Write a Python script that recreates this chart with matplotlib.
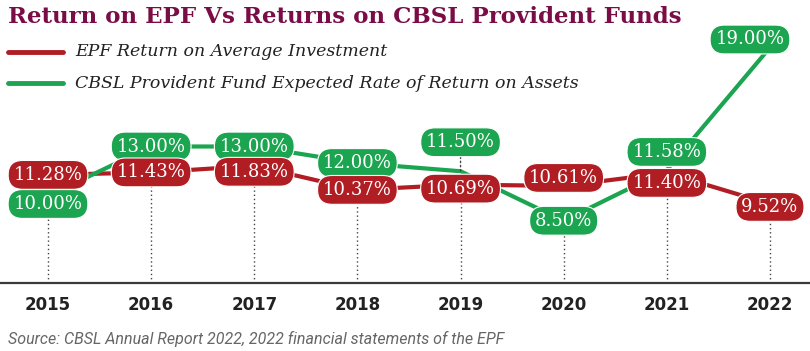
import matplotlib
matplotlib.use("Agg")
import matplotlib.pyplot as plt
from matplotlib.lines import Line2D

years = [2015, 2016, 2017, 2018, 2019, 2020, 2021, 2022]
epf = [11.28, 11.43, 11.83, 10.37, 10.69, 10.61, 11.40, 9.52]
cbsl = [10.00, 13.00, 13.00, 12.00, 11.50, 8.50, 11.58, 19.00]

title = "Return on EPF Vs Returns on CBSL Provident Funds"
epf_name = "EPF Return on Average Investment"
cbsl_name = "CBSL Provident Fund Expected Rate of Return on Assets"
source = "Source: CBSL Annual Report 2022, 2022 financial statements of the EPF"

RED = "#b01e24"
GREEN = "#1ca550"
TITLE_C = "#7a0d45"

# label nudges in pixels (dx, dy), dy positive = down
red_off = {2017: (0, 6), 2019: (0, 4), 2020: (0, -8), 2021: (0, 10), 2022: (0, 3)}
green_off = {2015: (0, 8), 2019: (0, -29), 2021: (0, -18), 2022: (-20, -8)}

W, H = 810, 351
fig = plt.figure(figsize=(W / 100, H / 100), dpi=100)
ax = fig.add_axes([0, 68 / H, 1, 258 / H])

step = 103.14
ax.set_xlim(2015 - 48 / step, 2015 + (W - 48) / step)
ax.set_ylim(12 - 120 / 16.5, 12 + 138 / 16.5)
ymin = ax.get_ylim()[0]

for s in ["top", "left", "right"]:
    ax.spines[s].set_visible(False)
ax.spines["bottom"].set_color("#3a3a3a")
ax.spines["bottom"].set_linewidth(1.6)
ax.set_yticks([])
ax.set_xticks(years)
ax.set_xticklabels([str(y) for y in years], fontsize=12, fontweight="bold",
                   color="#222222")
ax.tick_params(axis="x", length=0, pad=9)

# dotted drop lines
tops = [min(a, b) for a, b in zip(epf, cbsl)]
ax.vlines(years, ymin, tops, colors="#444444", linestyles=(0, (1, 2)),
          linewidth=1.0, zorder=1)

ax.plot(years, epf, color=RED, lw=3, zorder=2, solid_capstyle="round")
ax.plot(years, cbsl, color=GREEN, lw=3, zorder=2, solid_capstyle="round")


def label(x, v, color, off, z):
    dx, dy = off.get(x, (0, 0))
    kw = {}
    if abs(dy) > 20:
        kw["arrowprops"] = dict(arrowstyle="-", color="#444444",
                                linestyle=(0, (1, 2)), lw=1.0,
                                shrinkA=0, shrinkB=0)
    ax.annotate(f"{v:.2f}%", (x, v), xytext=(dx * 0.72, -dy * 0.72),
                textcoords="offset points", ha="center", va="center",
                fontsize=13, family="DejaVu Serif", color="white",
                zorder=z,
                bbox=dict(boxstyle="round,pad=0.3,rounding_size=0.8",
                          fc=color, ec="white", lw=0.8),
                **kw)


for x, v in zip(years, cbsl):
    label(x, v, GREEN, green_off, 4)
for x, v in zip(years, epf):
    label(x, v, RED, red_off, 5)

# title, legend, source
fig.text(8 / W, 1 - 17 / H, title, fontsize=16.5, fontweight="bold",
         family="DejaVu Serif", color=TITLE_C, ha="left", va="center")

for yy, c, name in [(52, RED, epf_name), (83, GREEN, cbsl_name)]:
    fy = 1 - yy / H
    fig.add_artist(Line2D([8 / W, 63 / W], [fy, fy], color=c, lw=3.5,
                          solid_capstyle="round"))
    fig.text(75 / W, fy, name, fontsize=12.5, style="italic",
             family="DejaVu Serif", color="#222222", ha="left", va="center")

fig.text(8 / W, 1 - 339 / H, source, fontsize=11.5, style="italic",
         family=["Liberation Sans Narrow", "Roboto", "DejaVu Sans"],
         color="#666666", ha="left", va="center")

fig.savefig("out.png", dpi=100)
